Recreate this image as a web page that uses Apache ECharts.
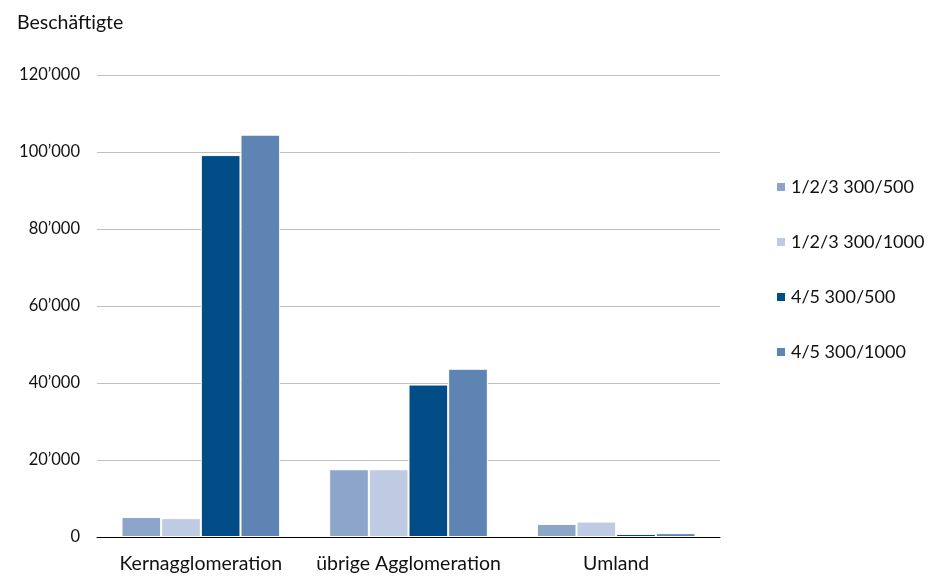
<!DOCTYPE html>
<html><head><meta charset="utf-8">
<script src="https://cdn.jsdelivr.net/npm/echarts@6/dist/echarts.min.js"></script>
<style>html,body{margin:0;padding:0;background:#fff}#c{width:928px;height:579px}</style>
</head><body><div id="c"></div>
<script>
const categories = ['Kernagglomeration', 'übrige Agglomeration', 'Umland'];
const seriesNames = ['1/2/3 300/500', '1/2/3 300/1000', '4/5 300/500', '4/5 300/1000'];
const s1 = [5200, 17600, 3400];
const s2 = [4900, 17600, 4000];
const s3 = [99200, 39600, 800];
const s4 = [104500, 43700, 1000];
const yTicks = [0, 20000, 40000, 60000, 80000, 100000, 120000];
const colors = ['#8EA5CA', '#BFCAE3', '#004C87', '#5E84B3'];
const FONT = 'Lato, "Liberation Sans", sans-serif';
const chart = echarts.init(document.getElementById('c'));
function fmt(v){ return String(v).replace(/\B(?=(\d{3})+(?!\d))/g, '\u2019'); }
chart.setOption({
  animation: false,
  textStyle: { fontFamily: FONT },
  title: { text: 'Beschäftigte', left: 12, top: 8, textStyle: { fontFamily: FONT, fontSize: 19.5, fontWeight: 'normal', color: '#111' } },
  legend: {
    orient: 'vertical', left: 770, top: 173, itemGap: 37, itemWidth: 10, itemHeight: 10,
    icon: 'rect', textStyle: { fontFamily: FONT, fontSize: 18, color: '#111' },
    data: seriesNames
  },
  grid: { left: 97, right: 208, top: 75, bottom: 42 },
  xAxis: {
    type: 'category', data: categories,
    axisLine: { lineStyle: { color: '#000', width: 1 } },
    axisTick: { show: false },
    axisLabel: { interval: 0, fontFamily: FONT, fontSize: 19.5, color: '#111', margin: 17 }
  },
  yAxis: {
    type: 'value', min: yTicks[0], max: yTicks[yTicks.length - 1], interval: yTicks[1] - yTicks[0],
    axisLine: { show: false }, axisTick: { show: false },
    splitLine: { lineStyle: { color: '#BFBFBF', width: 1 } },
    axisLabel: { fontFamily: FONT, fontSize: 16.5, color: '#111', margin: 17, formatter: fmt }
  },
  series: [s1, s2, s3, s4].map((d, i) => ({
    name: seriesNames[i], type: 'bar', data: d,
    barGap: '0%', barCategoryGap: '23.6%',
    itemStyle: { color: colors[i], borderColor: '#fff', borderWidth: 1 }
  }))
});
</script></body></html>
